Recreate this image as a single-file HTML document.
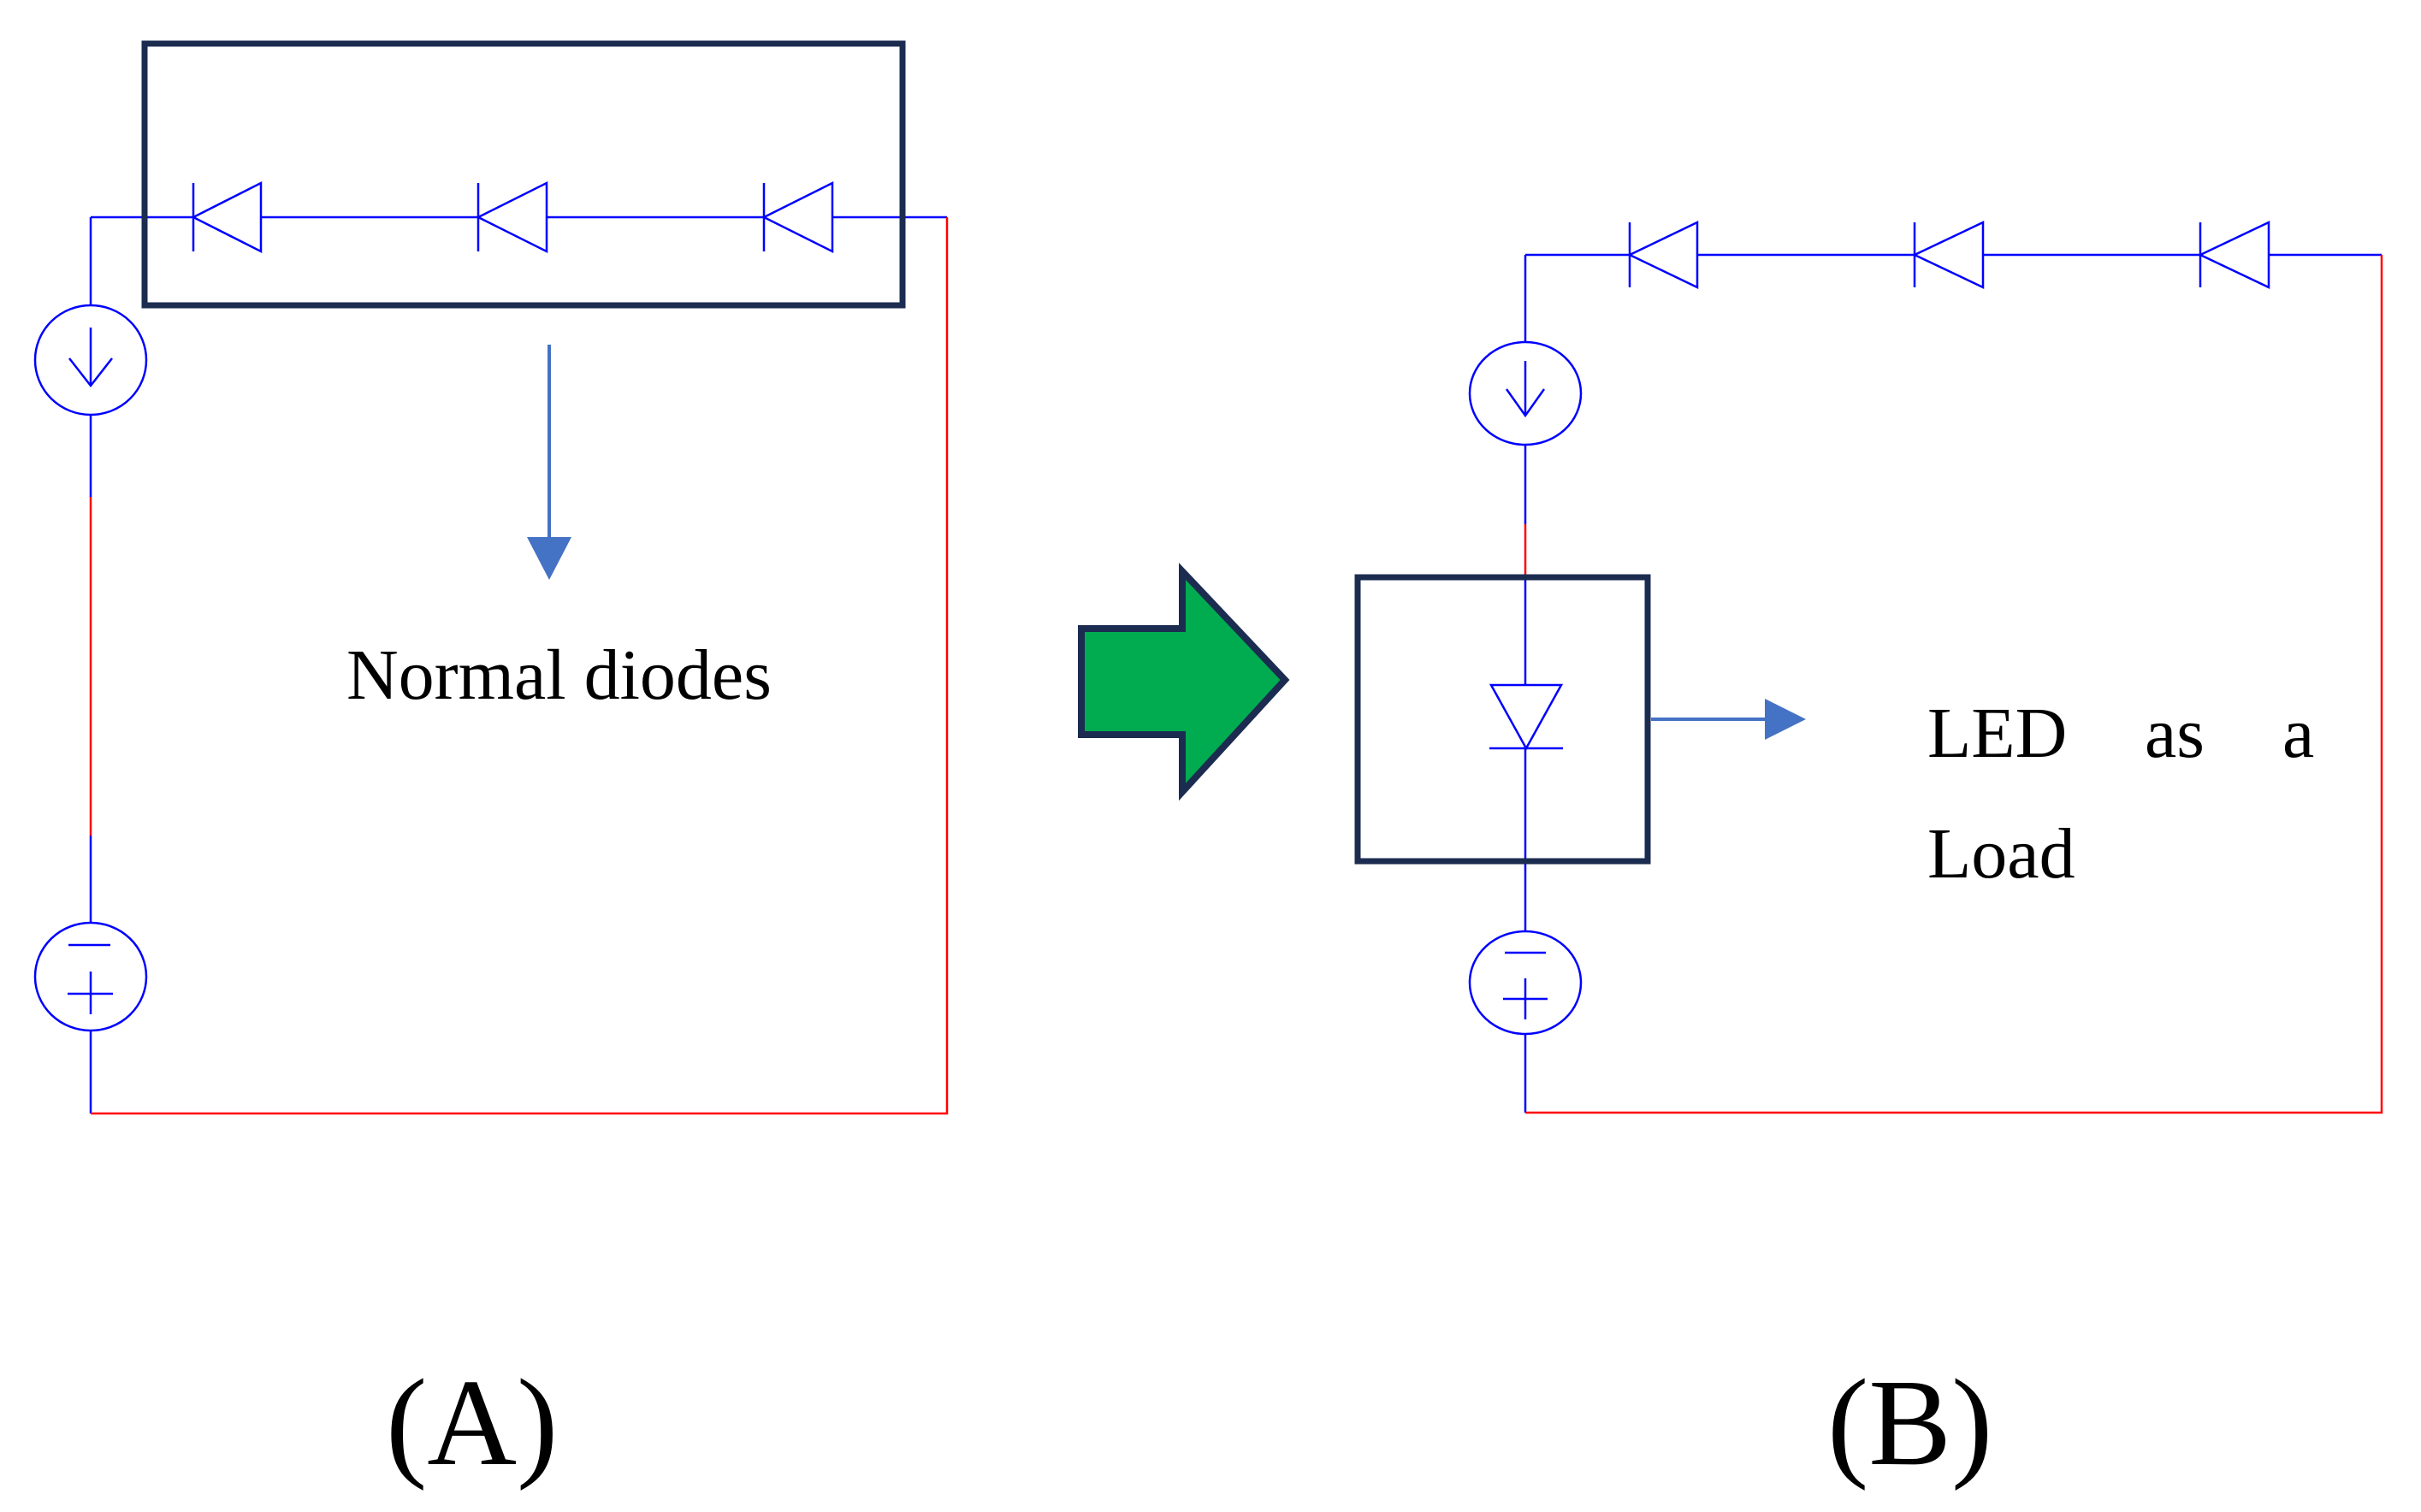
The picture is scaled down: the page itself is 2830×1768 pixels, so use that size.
<!DOCTYPE html>
<html><head><style>html,body{margin:0;padding:0;background:#fff}svg{display:block}</style></head>
<body>
<svg width="2830" height="1768" viewBox="0 0 2830 1768" xmlns="http://www.w3.org/2000/svg">
<g fill="none" stroke-width="2.5">
<g transform="translate(-3,0)">
<!-- Panel A -->
<line x1="109" y1="254" x2="1110" y2="254" stroke="#0000ff"/>
<g stroke="#0000ff">
<polygon points="229,254 308,214 308,294" fill="#fff"/><line x1="229" y1="214" x2="229" y2="294"/>
<polygon points="562,254 642,214 642,294" fill="#fff"/><line x1="562" y1="214" x2="562" y2="294"/>
<polygon points="896,254 976,214 976,294" fill="#fff"/><line x1="896" y1="214" x2="896" y2="294"/>
<line x1="109" y1="254" x2="109" y2="357"/>
<ellipse cx="109" cy="421" rx="65" ry="64"/>
<line x1="109" y1="383" x2="109" y2="451"/><polyline points="84,419 109,451 134,419"/>
<line x1="109" y1="486" x2="109" y2="581"/>
<line x1="109" y1="977" x2="109" y2="1079"/>
<ellipse cx="109" cy="1142" rx="65" ry="63"/>
<line x1="83" y1="1105" x2="132" y2="1105"/>
<line x1="82" y1="1162" x2="135" y2="1162"/><line x1="109" y1="1136" x2="109" y2="1186"/>
<line x1="109" y1="1205" x2="109" y2="1302"/>
</g>
<line x1="109" y1="581" x2="109" y2="977" stroke="#ff0000"/>
<polyline points="109,1302 1110,1302 1110,254" stroke="#ff0000"/>
<rect x="172" y="51" width="886" height="306" stroke="#1b2c50" stroke-width="7"/>
<line x1="645" y1="403" x2="645" y2="630" stroke="#4472c4" stroke-width="4"/>
<polygon points="619,628 671,628 645,678" fill="#4472c4" stroke="none"/>
</g>
<g transform="translate(-11,-3)">
<!-- Panel B -->
<g stroke="#0000ff">
<line x1="1794" y1="301" x2="2795" y2="301"/>
<polygon points="1916,301 1995,263 1995,339" fill="#fff"/><line x1="1916" y1="263" x2="1916" y2="339"/>
<polygon points="2249,301 2329,263 2329,339" fill="#fff"/><line x1="2249" y1="263" x2="2249" y2="339"/>
<polygon points="2583,301 2663,263 2663,339" fill="#fff"/><line x1="2583" y1="263" x2="2583" y2="339"/>
<line x1="1794" y1="301" x2="1794" y2="403"/>
<ellipse cx="1794" cy="463" rx="65" ry="60"/>
<line x1="1794" y1="425" x2="1794" y2="489"/><polyline points="1772,458 1794,489 1816,458"/>
<line x1="1794" y1="523" x2="1794" y2="616"/>
<line x1="1794" y1="678" x2="1794" y2="1092"/>
<polygon points="1754,804 1836,804 1795,878" fill="#fff"/>
<line x1="1752" y1="878" x2="1838" y2="878"/>
<ellipse cx="1794" cy="1152" rx="65" ry="60"/>
<line x1="1770" y1="1117" x2="1818" y2="1117"/>
<line x1="1768" y1="1171" x2="1820" y2="1171"/><line x1="1794" y1="1147" x2="1794" y2="1195"/>
<line x1="1794" y1="1212" x2="1794" y2="1304"/>
</g>
<line x1="1794" y1="616" x2="1794" y2="678" stroke="#ff0000"/>
<polyline points="1794,1304 2795,1304 2795,301" stroke="#ff0000"/>
<rect x="1598" y="678" width="339" height="332" stroke="#1b2c50" stroke-width="7"/>
<line x1="1941" y1="844" x2="2076" y2="844" stroke="#4472c4" stroke-width="4"/>
<polygon points="2074,820 2074,868 2122,844" fill="#4472c4" stroke="none"/>
<polygon points="1275,738 1393,738 1393,671 1513,798 1393,929 1393,862 1275,862" fill="#00ac4f" stroke="#1b2c50" stroke-width="8" stroke-linejoin="miter"/>
</g>
</g>
<g font-family="'Liberation Serif', serif" fill="#000">
<text x="405" y="817" font-size="84">Normal diodes</text>
<text x="2253" y="885" font-size="84">LED</text>
<text x="2507" y="885" font-size="84">as</text>
<text x="2668" y="885" font-size="84">a</text>
<text x="2253" y="1026" font-size="84">Load</text>
<text x="451" y="1712" font-size="145">(A)</text>
<text x="2136" y="1712" font-size="145">(B)</text>
</g>
</svg>
</body></html>
